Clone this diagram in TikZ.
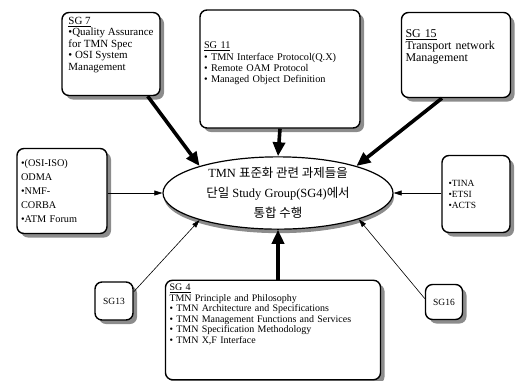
\documentclass[tikz,border=0pt]{standalone}
\usepackage{fontspec}
\setmainfont{Liberation Serif}
\newfontfamily\krfont{Noto Sans CJK KR}
\usetikzlibrary{shapes.geometric,shadows,arrows.meta}

\tikzset{
  sgbox/.style={draw=black, line width=1.4bp, rounded corners=7bp, fill=white,
    align=left, inner sep=4bp, font=\fontsize{9.5}{11}\selectfont,
    general shadow={shadow xshift=4bp, shadow yshift=-4bp, fill=black!45}},
  bigarrow/.style={-{Triangle[length=14bp,width=12bp]}, line width=3.6bp},
  thinarrow/.style={-{Triangle[length=8bp,width=5bp]}, line width=0.6bp},
}

\begin{document}
\begin{tikzpicture}[x=1bp,y=-1bp]
    \useasboundingbox (0,0) rectangle (517,380);

    % the centre
    \node[ellipse, draw, line width=1.2bp, fill=white, minimum width=230bp,
          minimum height=66bp, inner sep=0pt, align=center,
          font=\fontsize{12.5}{20}\selectfont,
          general shadow={shadow xshift=1bp, shadow yshift=-4bp, fill=black!45}]
        (ell) at (278,193)
        {TMN {\krfont 표준화 관련 과제들을}\\
         {\krfont 단일} Study Group(SG4){\krfont 에서}\\
         {\krfont 통합 수행}};

    % study groups above
    \node[sgbox, minimum width=98bp, minimum height=83bp, inner xsep=3bp,
          font=\fontsize{11}{11.5}\selectfont]
        (sg7) at (111,54) {\underline{SG 7}\\ \textbullet Quality Assurance\\ for TMN Spec\\ \textbullet\ OSI System\\ Management\\ \rule{0pt}{17bp}};
    \node[sgbox, minimum width=160bp, minimum height=118bp, text width=152bp,
          font=\fontsize{10.3}{11.5}\selectfont]
        (sg11) at (280,69) {\underline{SG 11}\\ \textbullet\ TMN Interface Protocol(Q.X)\\ \textbullet\ Remote OAM Protocol\\ \textbullet\ Managed Object Definition\\ \rule{0pt}{10bp}};
    \node[sgbox, minimum width=107bp, minimum height=85bp, text width=101bp,
          font=\fontsize{12}{12}\selectfont]
        (sg15) at (456,55) {\underline{SG 15}\\ Transport network\\ Management\\ \rule{0pt}{16bp}};

    % other bodies, left and right
    \node[sgbox, minimum width=90bp, minimum height=85bp, text width=82bp,
          font=\fontsize{10.3}{14}\selectfont]
        (forum) at (62,191) {\textbullet(OSI-ISO)\\ ODMA\\ \textbullet NMF-\\ CORBA\\ \textbullet ATM Forum};
    \node[sgbox, minimum width=68bp, minimum height=77bp, text width=55bp]
        (euro) at (476,194) {\textbullet TINA\\ \textbullet ETSI\\ \textbullet ACTS};

    % study groups below
    \node[sgbox, minimum width=38bp, minimum height=38bp, align=center, inner sep=2bp]
        (sg13) at (114,301) {SG13};
    \node[sgbox, minimum width=213bp, minimum height=92bp, text width=207bp,
          font=\fontsize{10}{10.5}\selectfont]
        (sg4) at (273,330) {\underline{SG 4}\\ TMN Principle and Philosophy\\ \textbullet\ TMN Architecture and Specifications\\ \textbullet\ TMN Management Functions and Services\\ \textbullet\ TMN Specification Methodology\\ \textbullet\ TMN X,F Interface\\ \rule{0pt}{30bp}};
    \node[sgbox, minimum width=37bp, minimum height=35bp, align=center, inner sep=2bp]
        (sg16) at (444,302) {SG16};

    % arrows into the centre
    \draw[bigarrow] (sg7.-49) -- (ell.161);
    \draw[bigarrow] (sg11.south) -- (ell.north);
    \draw[bigarrow] (sg15.-108) -- (ell.19);
    \draw[bigarrow] (ell.south |- sg4.north) -- (ell.south);
    \draw[thinarrow] (forum.east |- ell.west) -- (ell.west);
    \draw[thinarrow] (euro.west |- ell.east) -- (ell.east);
    \draw[thinarrow] (sg13.25) -- (ell.199);
    \draw[thinarrow] (sg16.170) -- (ell.-18);
\end{tikzpicture}
\end{document}
